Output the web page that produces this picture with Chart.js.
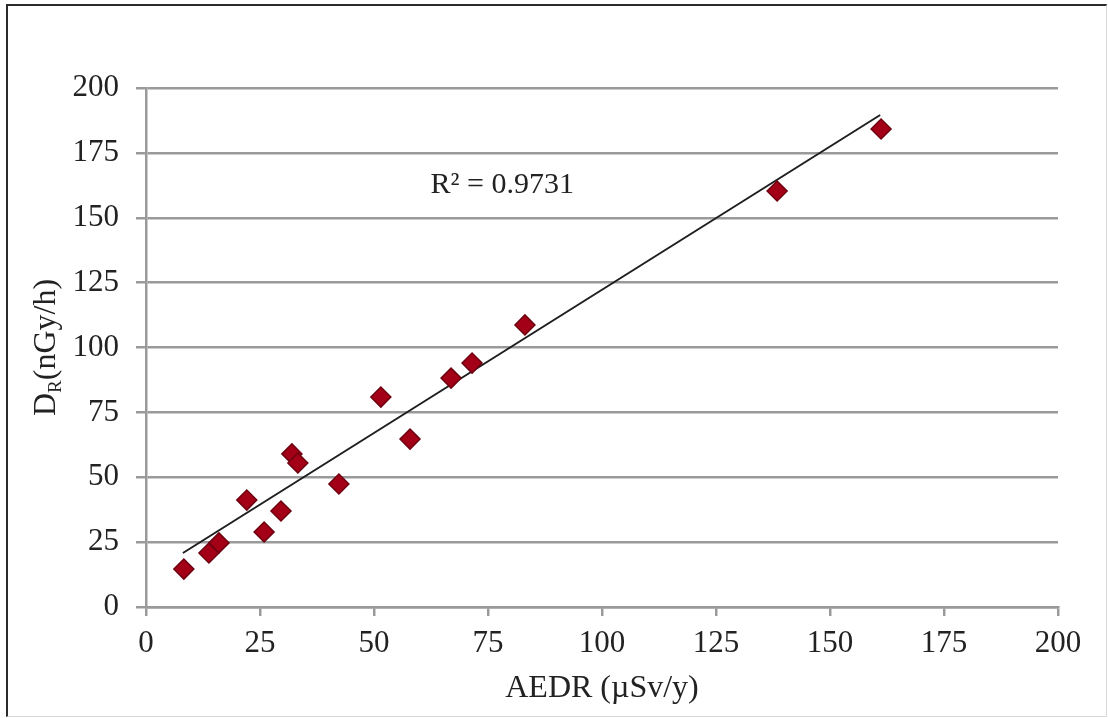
<!DOCTYPE html>
<html>
<head>
<meta charset="utf-8">
<title>AEDR vs DR</title>
<script src="https://cdn.jsdelivr.net/npm/chart.js@4"></script>
<style>
  html, body { margin: 0; padding: 0; background: #fff; }
  #wrap { position: relative; width: 1108px; height: 718px; }
  #frame {
    position: absolute; left: 6px; top: 4px; right: 1px; bottom: 1px;
    border-left: 2px solid #2b2b2b; border-top: 2px solid #2b2b2b;
    border-right: 1px solid #d8d8d8; border-bottom: 1px solid #d8d8d8;
    pointer-events: none;
  }
  canvas { position: absolute; left: 0; top: 0; }
</style>
</head>
<body>
<div id="wrap">
  <canvas id="chart" width="1108" height="718"></canvas>
  <div id="frame"></div>
</div>
<script>
// measured points: AEDR (µSv/y) against absorbed dose rate DR (nGy/h)
const aedr = [8.3, 13.8, 16.0, 22.1, 25.9, 29.6, 32.0, 33.3, 42.3, 51.5, 57.9, 66.9, 71.5, 83.1, 138.4, 161.2];
const doseRate = [14.6, 20.8, 24.7, 41.2, 28.9, 37.0, 59.0, 55.5, 47.4, 80.9, 64.7, 88.2, 94.0, 108.7, 160.3, 184.2];

// linear trendline end points and its fit
const trendX = [8.1, 161.0];
const trendY = [20.8, 189.6];
const rSquared = '0.9731';

const ticksX = [0, 25, 50, 75, 100, 125, 150, 175, 200];
const ticksY = [0, 25, 50, 75, 100, 125, 150, 175, 200];

const serif = '"Liberation Serif", "Times New Roman", serif';
const gridGrey = '#9a9a9a';

const points = aedr.map((x, i) => ({ x: x, y: doseRate[i] }));
const trend = trendX.map((x, i) => ({ x: x, y: trendY[i] }));

// y title has a subscript R, so it is drawn by hand
const yTitle = {
  id: 'yTitle',
  afterDraw(chart) {
    const ctx = chart.ctx;
    const area = chart.chartArea;
    const cy = (area.top + area.bottom) / 2;
    ctx.save();
    ctx.translate(47, cy);
    ctx.rotate(-Math.PI / 2);
    ctx.fillStyle = '#222';
    ctx.textBaseline = 'middle';
    const d = 'D', rest = '(nGy/h)';
    ctx.font = '19px ' + serif;
    const wSub = ctx.measureText('R').width;
    ctx.font = '32px ' + serif;
    const wD = ctx.measureText(d).width;
    const wRest = ctx.measureText(rest).width;
    let x = -(wD + wSub + wRest) / 2;
    ctx.fillText(d, x, 0);
    x += wD;
    ctx.font = '19px ' + serif;
    ctx.fillText('R', x, 9);
    x += wSub;
    ctx.font = '32px ' + serif;
    ctx.fillText(rest, x, 0);
    ctx.restore();
  }
};

// R² label next to the trendline
const fitLabel = {
  id: 'fitLabel',
  afterDatasetsDraw(chart) {
    const ctx = chart.ctx;
    const xs = chart.scales.x, ys = chart.scales.y;
    ctx.save();
    ctx.fillStyle = '#222';
    ctx.font = '30px ' + serif;
    ctx.textBaseline = 'middle';
    ctx.fillText('R\u00b2 = ' + rSquared, xs.getPixelForValue(62.4), ys.getPixelForValue(162.5));
    ctx.restore();
  }
};

new Chart(document.getElementById('chart'), {
  type: 'scatter',
  data: {
    datasets: [
      {
        label: 'DR',
        data: points,
        pointStyle: 'rectRot',
        pointRadius: 10,
        pointHoverRadius: 10,
        backgroundColor: '#a30018',
        borderColor: '#6e0010',
        borderWidth: 1.5,
        order: 1
      },
      {
        label: 'trend',
        data: trend,
        showLine: true,
        pointRadius: 0,
        borderColor: '#1e1e1e',
        borderWidth: 2,
        order: 2
      }
    ]
  },
  options: {
    responsive: false,
    animation: false,
    layout: { padding: { left: 20, top: 88, right: 50, bottom: 0 } },
    plugins: {
      legend: { display: false },
      tooltip: { enabled: false }
    },
    scales: {
      x: {
        type: 'linear',
        min: 0,
        max: 200,
        afterBuildTicks(scale) { scale.ticks = ticksX.map(v => ({ value: v })); },
        afterFit(scale) { scale.height = 111; },
        grid: { display: true, drawOnChartArea: false, drawTicks: true, tickLength: 9, color: gridGrey, lineWidth: 2.5 },
        border: { display: true, color: gridGrey, width: 2.5 },
        ticks: { color: '#222', font: { family: serif, size: 31 }, padding: 9, maxRotation: 0 },
        title: { display: true, text: 'AEDR (\u00b5Sv/y)', color: '#222', font: { family: serif, size: 32 }, padding: { top: 0, bottom: 10 } }
      },
      y: {
        type: 'linear',
        min: 0,
        max: 200,
        afterBuildTicks(scale) { scale.ticks = ticksY.map(v => ({ value: v })); },
        afterFit(scale) { scale.width = 126; },
        grid: { display: true, drawOnChartArea: true, drawTicks: true, tickLength: 10, color: gridGrey, lineWidth: 2.5 },
        border: { display: true, color: gridGrey, width: 2.5 },
        ticks: { color: '#222', font: { family: serif, size: 31 }, padding: 17 },
        title: { display: false }
      }
    }
  },
  plugins: [yTitle, fitLabel]
});
</script>
</body>
</html>
